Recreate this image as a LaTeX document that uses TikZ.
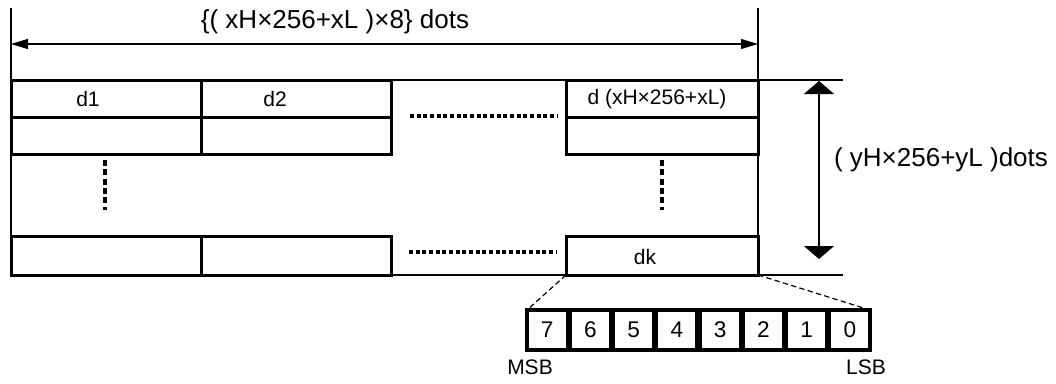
\documentclass[tikz,border=0pt]{standalone}
\usepackage{fontspec}
\setmainfont{Liberation Sans}
\usetikzlibrary{arrows.meta}
\tikzset{
  px/.style={x=0.75pt,y=-0.75pt},
  thinline/.style={line width=0.9pt},
  cell/.style={draw,line width=2.25pt,inner sep=0pt,outer sep=0pt,minimum width=142.5pt,minimum height=27.75pt},
  lastcell/.style={cell,minimum width=144pt},
  bit/.style={draw,line width=2.4pt,inner sep=0pt,outer sep=0pt,minimum width=30.3pt,minimum height=30pt,font=\fontsize{17}{19}\selectfont},
  small/.style={font=\fontsize{15.75}{18}\selectfont,inner sep=0pt},
  big/.style={font=\fontsize{19.5}{22}\selectfont,inner sep=0pt},
  dotline/.style={line width=2.4pt,dash pattern=on 3pt off 2pt},
  vdash/.style={line width=2.5pt,dash pattern=on 4.5pt off 2.5pt},
  zoomline/.style={line width=0.9pt,dash pattern=on 4pt off 2.5pt},
  hdim/.style={thinline,{Triangle[length=12.75pt,width=7.5pt]}-{Triangle[length=12.75pt,width=7.5pt]}},
  vdim/.style={thinline,{Triangle[length=9.75pt,width=22.5pt]}-{Triangle[length=9.75pt,width=22.5pt]}},
}
\begin{document}
\begin{tikzpicture}[px]
\useasboundingbox (0,0) rectangle (1056,383);
% frame lines
\coordinate (tl) at (11,8);
\coordinate (bl) at (11,275);
\coordinate (tr) at (758,8);
\coordinate (br) at (758,275);
\coordinate (fl) at (11,80);
\coordinate (fr) at (843,80);
\coordinate (gl) at (11,275);
\coordinate (gr) at (843,275);
\draw[thinline] (tl) -- (bl);
\draw[thinline] (tr) -- (br);
\draw[thinline] (fl) -- (fr);
\draw[thinline] (gl) -- (gr);
% horizontal dimension
\coordinate (ha) at (11,44);
\coordinate (hb) at (758,44);
\draw[hdim] (ha) -- (hb);
\node[big] (hlabel) at (335,22) {\{( xH×256+xL )×8\} dots};
% vertical dimension
\coordinate (va) at (819,81);
\coordinate (vb) at (819,259);
\draw[vdim] (va) -- (vb);
\node[big] (vlabel) at (941,160) {( yH×256+yL )dots};
% cells
\node[cell] (r1c1) at (106,98.5) {};
\node[cell] (r1c2) at (296,98.5) {};
\node[lastcell] (r1c3) at (662,98.5) {};
\node[cell] (r2c1) at (106,135.5) {};
\node[cell] (r2c2) at (296,135.5) {};
\node[lastcell] (r2c3) at (662,135.5) {};
\node[cell,minimum height=29.25pt] (r3c1) at (106,255.5) {};
\node[cell,minimum height=29.25pt] (r3c2) at (296,255.5) {};
\node[lastcell,minimum height=29.25pt] (r3c3) at (662,255.5) {};
\node[small] (t1) at (88,99) {d1};
\node[small] (t2) at (275,99) {d2};
\node[small] (t3) at (657,99) {d (xH×256+xL)};
\node[small] (t4) at (645,257) {dk};
% dotted continuation
\coordinate (d1a) at (410,116);
\coordinate (d1b) at (557,116);
\coordinate (d2a) at (409,252);
\coordinate (d2b) at (556,252);
\draw[dotline] (d1a) -- (d1b);
\draw[dotline] (d2a) -- (d2b);
\coordinate (v1a) at (105,160);
\coordinate (v1b) at (105,210);
\coordinate (v2a) at (662,160);
\coordinate (v2b) at (662,210);
\draw[vdash] (v1a) -- (v1b);
\draw[vdash] (v2a) -- (v2b);
% bits
\foreach \i/\b in {0/7,1/6,2/5,3/4,4/3,5/2,6/1,7/0} {
  \node[bit] (b\b) at ({527+20.2+43.23*\i},330) {\b};
}
\draw[zoomline] (r3c3.south west) -- (b7.north west);
\draw[zoomline] (r3c3.south east) -- (b0.north east);
\node[small] (msb) at (530,367) {MSB};
\node[small] (lsb) at (866,367) {LSB};
\end{tikzpicture}
\end{document}
